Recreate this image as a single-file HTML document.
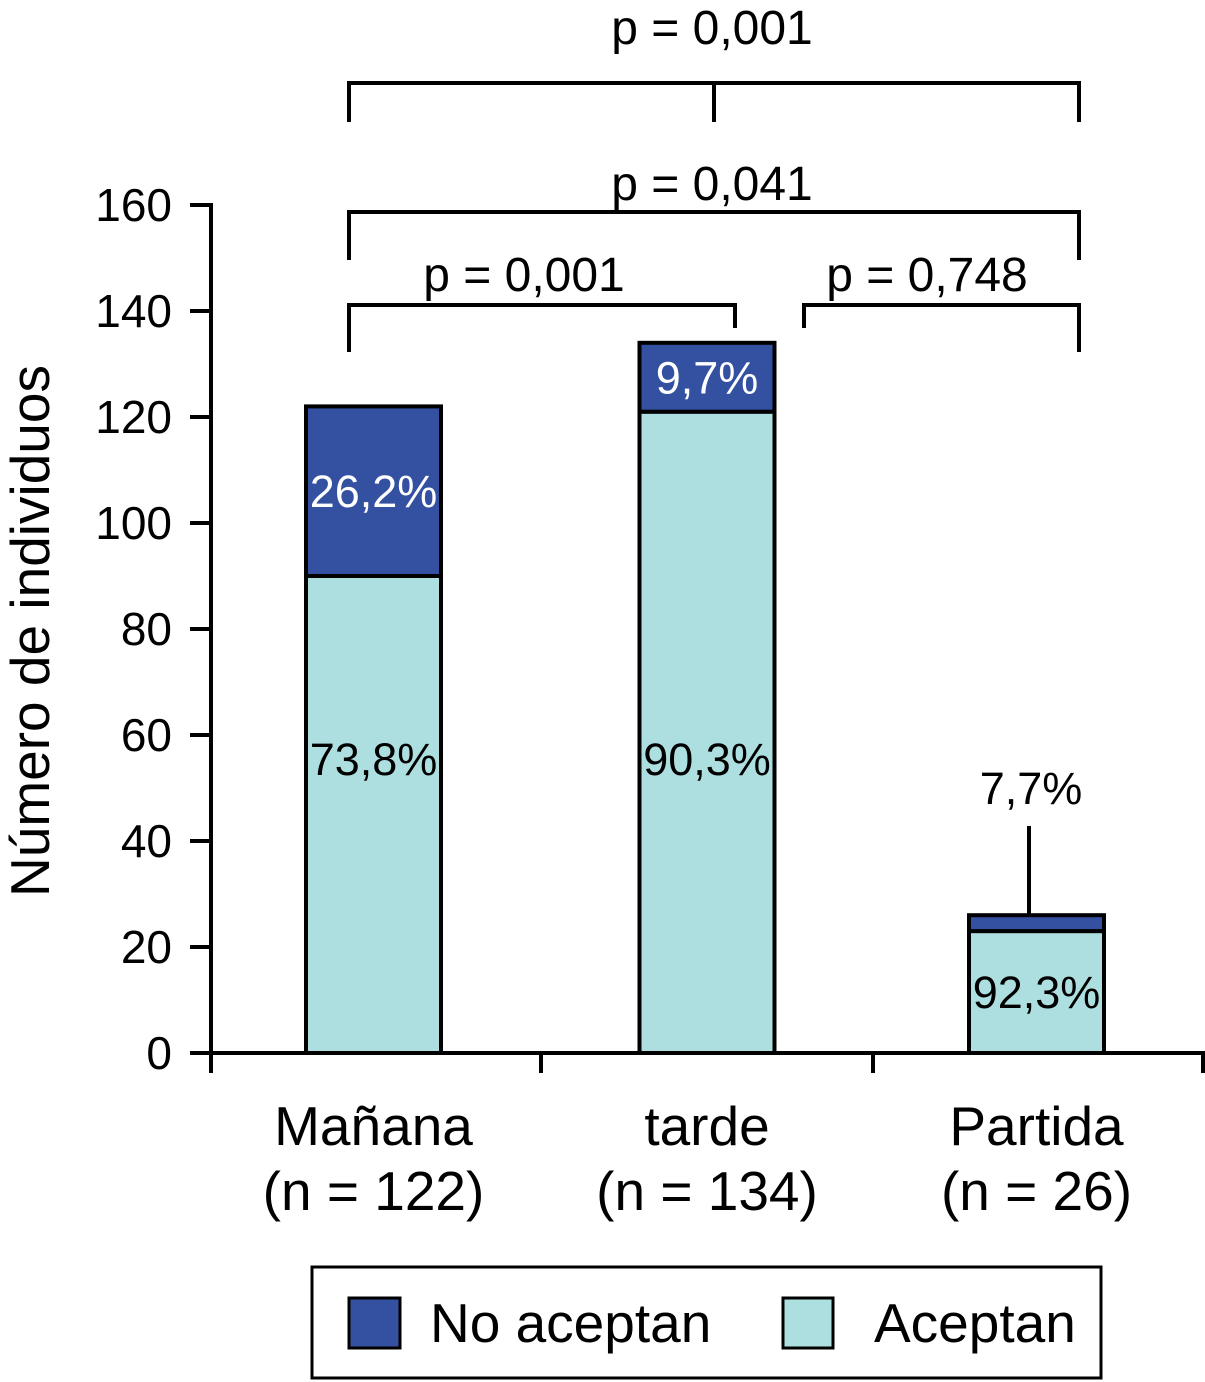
<!DOCTYPE html>
<html><head><meta charset="utf-8">
<style>
html,body{margin:0;padding:0;background:#fff;}
svg{display:block;font-family:"Liberation Sans",Arial,sans-serif;}
</style></head>
<body>
<svg id="chart" width="1205" height="1382" viewBox="0 0 1205 1382" xmlns="http://www.w3.org/2000/svg">
<g id="g"></g>
</svg>
<script>
const categories = ["Mañana","tarde","Partida"];
const nLabels = ["(n = 122)","(n = 134)","(n = 26)"];
const aceptan = [90, 121, 23];
const noAceptan = [32, 13, 3];
const pctAcept = ["73,8%","90,3%","92,3%"];
const pctNo = ["26,2%","9,7%","7,7%"];
const yTicks = [0,20,40,60,80,100,120,140,160];
const pLabels = ["p = 0,001","p = 0,041","p = 0,001","p = 0,748"];

const NS="http://www.w3.org/2000/svg";
const g=document.getElementById('g');
const y0=1053, pxPerUnit=848/160;
const Y=v=>y0-v*pxPerUnit;
const barCenters=[373.5,707,1036.5], barW=135;
const blue="#3450a0", cyan="#aedfe0";
function mk(tag,attrs,text){const e=document.createElementNS(NS,tag);for(const k in attrs)e.setAttribute(k,attrs[k]);if(text!==undefined)e.textContent=text;g.appendChild(e);return e;}

yTicks.forEach(t=>{
  const l=mk('line',{x1:190,x2:211,y1:Y(t),y2:Y(t),stroke:'#000','stroke-width':4});
  
  
  const tx=mk('text',{x:172,y:Y(t)+16,'text-anchor':'end','font-size':46,fill:'#000'},String(t));
  
  
});
const ya=mk('line',{x1:211,x2:211,y1:Y(160)-2,y2:y0+2,stroke:'#000','stroke-width':4});


const yt=mk('text',{x:0,y:0,transform:'translate(49,631) rotate(-90)','text-anchor':'middle','font-size':55,fill:'#000'},'Número de individuos');



categories.forEach((c,i)=>{
  const x=barCenters[i]-barW/2;
  const a=mk('rect',{x:x,y:Y(aceptan[i]),width:barW,height:Y(0)-Y(aceptan[i]),fill:cyan,stroke:'#000','stroke-width':4});
  
  
  const tot=aceptan[i]+noAceptan[i];
  const b=mk('rect',{x:x,y:Y(tot),width:barW,height:Y(aceptan[i])-Y(tot),fill:blue,stroke:'#000','stroke-width':4});
  
  
  const cx=barCenters[i];
  const la=mk('text',{x:cx,y:(i==2?Y(aceptan[i]/2)+16:775),'text-anchor':'middle','font-size':45,fill:'#000'},pctAcept[i]);
  
  
  if(i<2){
    const ln=mk('text',{x:cx,y:(Y(tot)+Y(aceptan[i]))/2+16,'text-anchor':'middle','font-size':45,fill:'#fff'},pctNo[i]);
    
    
  } else {
    const ld=mk('line',{x1:1029,x2:1029,y1:826,y2:Y(tot),stroke:'#000','stroke-width':4});
    
    
    const ln=mk('text',{x:1031,y:804,'text-anchor':'middle','font-size':45,fill:'#000'},pctNo[i]);
    
    
  }
  const t1=mk('text',{x:cx,y:1145,'text-anchor':'middle','font-size':55,fill:'#000'},c);
  
  
  const t2=mk('text',{x:cx,y:1210,'text-anchor':'middle','font-size':55,fill:'#000'},nLabels[i]);
  
  
});
const xa=mk('line',{x1:209,x2:1205,y1:y0,y2:y0,stroke:'#000','stroke-width':4});


[211,541,873,1203].forEach(x=>{
  const t=mk('line',{x1:x,x2:x,y1:y0,y2:1073,stroke:'#000','stroke-width':4});
  
  
});

function bracket(pts,label,lx,ly){
  const p=mk('polyline',{points:pts,fill:'none',stroke:'#000','stroke-width':4});
  
  
  const t=mk('text',{x:lx,y:ly,'text-anchor':'middle','font-size':48,fill:'#000'},label);
  
  
}
bracket("349,122 349,83 1079,83 1079,122",pLabels[0],712,44);
const mid=mk('line',{x1:714,x2:714,y1:83,y2:122,stroke:'#000','stroke-width':4});


bracket("349,260 349,212 1079,212 1079,260",pLabels[1],712,200);
bracket("349,352 349,305 735,305 735,328",pLabels[2],524,291);
bracket("804,328 804,305 1079,305 1079,352",pLabels[3],927,291);

const lg=mk('rect',{x:312,y:1267,width:789,height:111,fill:'#fff',stroke:'#000','stroke-width':3});


const s1=mk('rect',{x:349,y:1298,width:51,height:50,fill:blue,stroke:'#000','stroke-width':3});


const l1=mk('text',{x:430,y:1342,'font-size':55,fill:'#000'},'No aceptan');


const s2=mk('rect',{x:783,y:1298,width:50,height:50,fill:cyan,stroke:'#000','stroke-width':3});


const l2=mk('text',{x:874,y:1342,'font-size':55,fill:'#000'},'Aceptan');


</script>
</body></html>
